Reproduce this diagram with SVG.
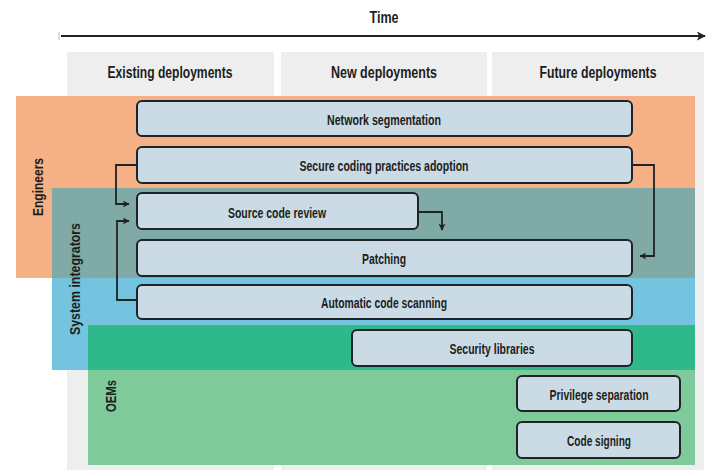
<svg xmlns="http://www.w3.org/2000/svg" width="715" height="472" viewBox="0 0 715 472">
  <style>
    text { font-family: "Liberation Sans Narrow", "Liberation Sans", Arial, sans-serif; fill: #1b1d20; }
    .hdr { font-size: 16px; font-weight: bold; text-anchor: middle; }
    .lbl { font-size: 14.5px; font-weight: bold; text-anchor: middle; }
    .role { font-size: 15px; font-weight: bold; text-anchor: middle; }
    .col { fill: #eeeeee; }
    .box { fill: #cbdbe5; stroke: #1e2328; stroke-width: 2; }
    .wire { fill: none; stroke: #1e2328; stroke-width: 1.8; }
  </style>
  <defs>
    <marker id="tip" viewBox="0 0 10 10" refX="9" refY="5" markerWidth="7" markerHeight="7" orient="auto" markerUnits="userSpaceOnUse">
      <path d="M0,0 L10,5 L0,10 L2.5,5 z" fill="#1e2328"/>
    </marker>
    <marker id="tipBig" viewBox="0 0 10 10" refX="9" refY="5" markerWidth="9" markerHeight="9" orient="auto" markerUnits="userSpaceOnUse">
      <path d="M0,0 L10,5 L0,10 L2.5,5 z" fill="#1e2328"/>
    </marker>
  </defs>

  <rect width="715" height="472" fill="#ffffff"/>

  <!-- time axis -->
  <g id="time-axis">
    <text class="hdr" x="384" y="23" textLength="29" lengthAdjust="spacingAndGlyphs">Time</text>
    <line x1="61" y1="36" x2="705" y2="36" stroke="#1e2328" stroke-width="2" marker-end="url(#tipBig)"/>
    <line x1="59" y1="32" x2="59" y2="40" stroke="#bbbbbb" stroke-width="1"/>
  </g>

  <!-- deployment columns -->
  <g id="columns">
    <rect class="col" x="67" y="52" width="207" height="418"/>
    <rect class="col" x="281" y="52" width="206" height="418"/>
    <rect class="col" x="492" y="52" width="212" height="418"/>
    <text class="hdr" x="170" y="77.5" textLength="125" lengthAdjust="spacingAndGlyphs">Existing deployments</text>
    <text class="hdr" x="384" y="77.5" textLength="106" lengthAdjust="spacingAndGlyphs">New deployments</text>
    <text class="hdr" x="598" y="77.5" textLength="117" lengthAdjust="spacingAndGlyphs">Future deployments</text>
  </g>

  <!-- stakeholder bands -->
  <g id="bands">
    <rect x="16" y="96" width="679" height="182" fill="#f5b185"/>
    <rect x="52" y="188" width="643" height="182" fill="#74c4df"/>
    <rect x="52" y="188" width="643" height="90" fill="#80aaa5"/>
    <rect x="88" y="325" width="607" height="140" fill="#7fca9a"/>
    <rect x="88" y="325" width="607" height="45" fill="#2fb98b"/>
  </g>

  <g id="engineers">
    <text class="role" transform="translate(43,187) rotate(-90)" textLength="58" lengthAdjust="spacingAndGlyphs">Engineers</text>
  </g>
  <g id="system-integrators">
    <text class="role" transform="translate(79.5,279) rotate(-90)" textLength="112" lengthAdjust="spacingAndGlyphs">System integrators</text>
  </g>
  <g id="oems">
    <text class="role" transform="translate(115.5,396) rotate(-90)" textLength="32" lengthAdjust="spacingAndGlyphs">OEMs</text>
  </g>

  <!-- connectors -->
  <g id="connectors">
    <path class="wire" d="M137,165 H116 V204 H129" marker-end="url(#tip)"/>
    <path class="wire" d="M137,300 H117 V221 H129" marker-end="url(#tip)"/>
    <path class="wire" d="M418,212 H442 V230" marker-end="url(#tip)"/>
    <path class="wire" d="M632,165 H654 V256 H640" marker-end="url(#tip)"/>
  </g>

  <!-- practices -->
  <g id="network-segmentation">
    <rect class="box" x="137" y="101" width="495" height="35" rx="5"/>
    <text class="lbl" x="384" y="124.5" textLength="114" lengthAdjust="spacingAndGlyphs">Network segmentation</text>
  </g>
  <g id="secure-coding">
    <rect class="box" x="137" y="147" width="495" height="36" rx="5"/>
    <text class="lbl" x="384" y="170.5" textLength="169" lengthAdjust="spacingAndGlyphs">Secure coding practices adoption</text>
  </g>
  <g id="source-code-review">
    <rect class="box" x="137" y="193" width="281" height="36" rx="5"/>
    <text class="lbl" x="277" y="217.5" textLength="98" lengthAdjust="spacingAndGlyphs">Source code review</text>
  </g>
  <g id="patching">
    <rect class="box" x="137" y="240" width="495" height="36" rx="5"/>
    <text class="lbl" x="384" y="263.5" textLength="44" lengthAdjust="spacingAndGlyphs">Patching</text>
  </g>
  <g id="automatic-code-scanning">
    <rect class="box" x="137" y="285" width="495" height="34" rx="5"/>
    <text class="lbl" x="384" y="307.5" textLength="126" lengthAdjust="spacingAndGlyphs">Automatic code scanning</text>
  </g>
  <g id="security-libraries">
    <rect class="box" x="352" y="330" width="280" height="36" rx="5"/>
    <text class="lbl" x="492" y="353.5" textLength="85" lengthAdjust="spacingAndGlyphs">Security libraries</text>
  </g>
  <g id="privilege-separation">
    <rect class="box" x="517" y="376" width="163" height="35" rx="5"/>
    <text class="lbl" x="599" y="400" textLength="99" lengthAdjust="spacingAndGlyphs">Privilege separation</text>
  </g>
  <g id="code-signing">
    <rect class="box" x="517" y="422" width="163" height="36" rx="5"/>
    <text class="lbl" x="599" y="445.5" textLength="64" lengthAdjust="spacingAndGlyphs">Code signing</text>
  </g>
</svg>
